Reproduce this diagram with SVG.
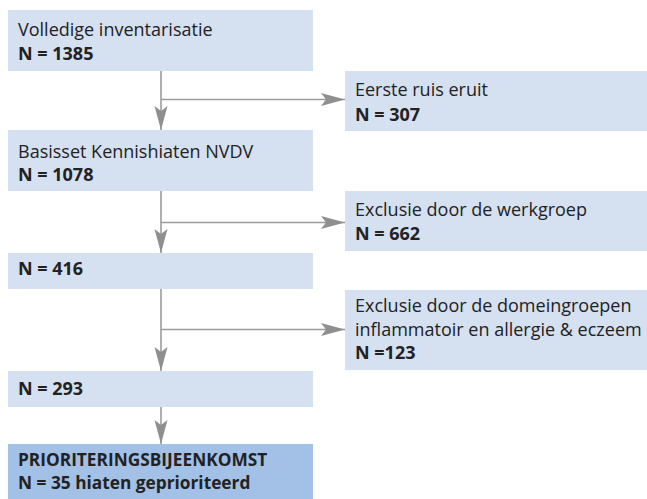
<svg xmlns="http://www.w3.org/2000/svg" width="647" height="499" viewBox="0 0 647 499">
  <style>
    .box { fill: #d5e0f1; }
    .final { fill: #a3c0e7; }
    .t { font-family: "Open Sans", "Noto Sans", "DejaVu Sans", sans-serif; font-size: 18px; fill: #222222; }
    .b { font-weight: bold; }
    .s { font-size: 17.3px; }
    .conn { stroke: #9b9b9b; stroke-width: 1.6; fill: none; }
  </style>
  <defs>
    <marker id="arr" markerUnits="userSpaceOnUse" markerWidth="26" markerHeight="14" viewBox="-25 -7 26 14" refX="0" refY="0" orient="auto">
      <path d="M0,0 L-24,-6.5 L-19,0 L-24,6.5 Z" fill="#8f8f8f"/>
    </marker>
  </defs>

  <g id="connectors">
    <line class="conn" x1="161" y1="71" x2="161" y2="130" marker-end="url(#arr)"/>
    <line class="conn" x1="161" y1="99.5" x2="345" y2="99.5" marker-end="url(#arr)"/>
    <line class="conn" x1="161" y1="191" x2="161" y2="253" marker-end="url(#arr)"/>
    <line class="conn" x1="161" y1="222.5" x2="345" y2="222.5" marker-end="url(#arr)"/>
    <line class="conn" x1="161" y1="289" x2="161" y2="371" marker-end="url(#arr)"/>
    <line class="conn" x1="161" y1="329.5" x2="345" y2="329.5" marker-end="url(#arr)"/>
    <line class="conn" x1="161" y1="407" x2="161" y2="444" marker-end="url(#arr)"/>
  </g>

  <g id="volledige">
    <rect class="box" x="8" y="10" width="305" height="61"/>
    <text class="t" x="18" y="35.5">Volledige inventarisatie</text>
    <text class="t b" x="18" y="59.5">N = 1385</text>
  </g>

  <g id="eerste-ruis">
    <rect class="box" x="345" y="71" width="302" height="60"/>
    <text class="t" x="355" y="96">Eerste ruis eruit</text>
    <text class="t b" x="355" y="120.5">N = 307</text>
  </g>

  <g id="basisset">
    <rect class="box" x="8" y="130" width="305" height="61"/>
    <text class="t" x="18" y="157.5">Basisset Kennishiaten NVDV</text>
    <text class="t b" x="18" y="181">N = 1078</text>
  </g>

  <g id="exclusie-werkgroep">
    <rect class="box" x="345" y="191" width="302" height="60"/>
    <text class="t" x="355" y="216">Exclusie door de werkgroep</text>
    <text class="t b" x="355" y="240">N = 662</text>
  </g>

  <g id="n416">
    <rect class="box" x="8" y="253" width="305" height="36"/>
    <text class="t b" x="18" y="274.5">N = 416</text>
  </g>

  <g id="exclusie-domein">
    <rect class="box" x="345" y="290" width="302" height="80"/>
    <text class="t" x="355" y="311.5">Exclusie door de domeingroepen</text>
    <text class="t" x="355" y="335.5">inflammatoir en allergie &amp; eczeem</text>
    <text class="t b" x="355" y="359">N =123</text>
  </g>

  <g id="n293">
    <rect class="box" x="8" y="371" width="305" height="36"/>
    <text class="t b" x="18" y="395">N = 293</text>
  </g>

  <g id="prioritering">
    <rect class="final" x="8" y="444" width="305" height="55"/>
    <text class="t b s" x="18" y="466">PRIORITERINGSBIJEENKOMST</text>
    <text class="t b s" x="18" y="488.5">N = 35 hiaten geprioriteerd</text>
  </g>
</svg>
